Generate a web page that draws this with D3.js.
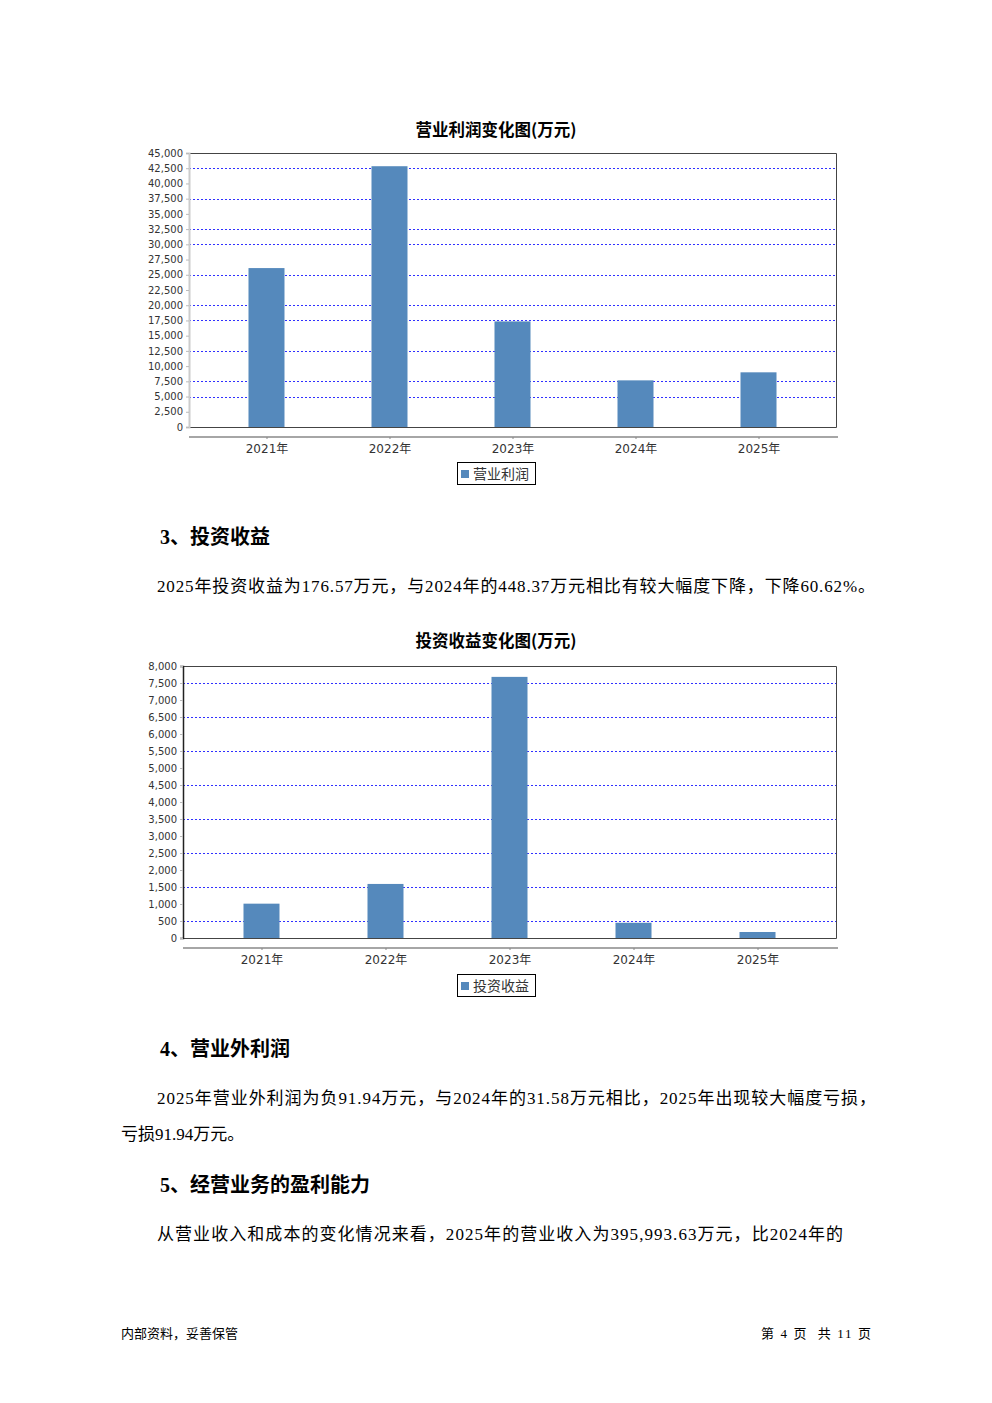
<!DOCTYPE html>
<html><head><meta charset="utf-8">
<script src="https://cdn.jsdelivr.net/npm/d3@7"></script>
<style>
html,body{margin:0;padding:0;background:#fff;}
svg{display:block;}
</style></head>
<body>
<svg id="page" width="992" height="1403"></svg>
<script>
// ---------- data ----------
const years = ["2021年", "2022年", "2023年", "2024年", "2025年"];
const profitValues = [26100, 42830, 17340, 7660, 8980];
const profitTicks = [0, 2500, 5000, 7500, 10000, 12500, 15000, 17500, 20000, 22500, 25000, 27500, 30000, 32500, 35000, 37500, 40000, 42500, 45000];
const profitGrid = [5000, 7500, 12500, 17500, 20000, 25000, 30000, 32500, 37500, 42500, 45000];
const investValues = [1010, 1590, 7680, 448.37, 176.57];
const investTicks = [0, 500, 1000, 1500, 2000, 2500, 3000, 3500, 4000, 4500, 5000, 5500, 6000, 6500, 7000, 7500, 8000];
const investGrid = [500, 1500, 2500, 3500, 4500, 5500, 6500, 7500];

const svg = d3.select("#page");
svg.append("rect").attr("width", 992).attr("height", 1403).attr("fill", "#fff");

const BAR = "#5589bc";
const fmt = d3.format(",");

function drawChart(c) {
  const g = svg.append("g");
  const y = d3.scaleLinear().domain([0, c.max]).range([c.yZero, c.yTop]);
  const x = d3.scalePoint().domain(years).range([c.x0, c.x1]).padding(c.pad);
  const bw = 36;

  // title
  g.append("text").attr("x", 496).attr("y", c.titleY).attr("text-anchor", "middle")
    .attr("font-family", "'Noto Sans CJK SC', sans-serif").attr("font-weight", "bold")
    .attr("font-size", 16.5).attr("fill", "#000").text(c.title);

  // grid lines
  g.selectAll(".grid").data(c.grid).enter().append("line")
    .attr("x1", c.x0).attr("x2", c.x1)
    .attr("y1", d => Math.round(y(d)) + 0.5).attr("y2", d => Math.round(y(d)) + 0.5)
    .attr("stroke", "#3030ff").attr("stroke-width", 1).attr("stroke-dasharray", "2,2");

  // bars
  g.selectAll(".bar").data(c.values).enter().append("rect")
    .attr("x", (d, i) => x(years[i]) - bw / 2)
    .attr("y", d => y(d))
    .attr("width", bw)
    .attr("height", d => c.yZero - y(d))
    .attr("fill", BAR);

  // plot border (top, right, bottom)
  g.append("path")
    .attr("d", `M${c.x0},${c.yTop + 0.5}H${c.x1 + 0.5}V${c.yZero + 0.5}H${c.x0}`)
    .attr("fill", "none").attr("stroke", "#444").attr("stroke-width", 1);

  // y axis
  const yAxis = d3.axisLeft(y).tickValues(c.ticks).tickFormat(fmt).tickSize(3).tickPadding(3);
  const ya = g.append("g").attr("transform", `translate(${c.x0},0)`).call(yAxis);
  ya.select(".domain").attr("stroke", c.axisColor).attr("stroke-width", c.axisWidth);
  ya.selectAll(".tick line").attr("stroke", "#bbb");
  ya.selectAll("text").attr("font-family", "'DejaVu Sans', sans-serif")
    .attr("font-size", 10).attr("fill", "#333");

  // category axis
  const xAxis = d3.axisBottom(x).tickSize(2).tickPadding(5);
  const xa = g.append("g").attr("transform", `translate(0,${c.axisY})`).call(xAxis);
  xa.select(".domain").attr("stroke", "#888").attr("stroke-width", 1.5)
    .attr("d", `M${c.x0},0H${c.x1 + 2}`);
  xa.selectAll(".tick line").attr("stroke", "#888");
  xa.selectAll("text").attr("font-family", "'DejaVu Sans', 'Noto Sans CJK SC', sans-serif")
    .attr("font-size", 12).attr("fill", "#333");

  // legend
  const lg = g.append("g").attr("transform", `translate(457,${c.legendY})`);
  lg.append("rect").attr("x", 0.5).attr("y", 0.5).attr("width", 78).attr("height", 22)
    .attr("fill", "#fff").attr("stroke", "#000").attr("stroke-width", 1);
  lg.append("rect").attr("x", 4).attr("y", 8).attr("width", 8).attr("height", 8).attr("fill", BAR);
  lg.append("text").attr("x", 16).attr("y", 16.5)
    .attr("font-family", "'Noto Sans CJK SC', sans-serif").attr("font-size", 14)
    .attr("fill", "#333").text(c.legend);
}

drawChart({
  title: "营业利润变化图(万元)", titleY: 136, values: profitValues, max: 45000,
  ticks: profitTicks, grid: profitGrid, x0: 189, x1: 836, yTop: 153, yZero: 427,
  pad: 0.63, axisY: 437, legendY: 462, legend: "营业利润", axisColor: "#ccc", axisWidth: 2
});
drawChart({
  title: "投资收益变化图(万元)", titleY: 647, values: investValues, max: 8000,
  ticks: investTicks, grid: investGrid, x0: 183, x1: 836, yTop: 666, yZero: 938,
  pad: 0.633, axisY: 948, legendY: 974, legend: "投资收益", axisColor: "#222", axisWidth: 1.5
});

// ---------- body text ----------
const bodyFont = "'Liberation Serif', 'Times New Roman', 'Noto Sans CJK SC', serif";
function heading(txt, x, yy) {
  svg.append("text").attr("x", x).attr("y", yy)
    .attr("font-family", bodyFont).attr("font-weight", "bold")
    .attr("font-size", 20).attr("fill", "#000").text(txt);
}
function para(txt, x, yy, len) {
  const t = svg.append("text").attr("x", x).attr("y", yy)
    .attr("font-family", bodyFont).attr("font-size", 17).attr("fill", "#000").text(txt);
  if (len) t.attr("textLength", len).attr("lengthAdjust", "spacing");
}
heading("3、投资收益", 160, 544);
para("2025年投资收益为176.57万元，与2024年的448.37万元相比有较大幅度下降，下降60.62%。", 157, 592, 718);
heading("4、营业外利润", 160, 1056);
para("2025年营业外利润为负91.94万元，与2024年的31.58万元相比，2025年出现较大幅度亏损，", 157, 1104, 719);
para("亏损91.94万元。", 121, 1140);
heading("5、经营业务的盈利能力", 160, 1192);
para("从营业收入和成本的变化情况来看，2025年的营业收入为395,993.63万元，比2024年的", 157, 1240, 686);

// footer
svg.append("text").attr("x", 121).attr("y", 1338).attr("font-family", bodyFont)
  .attr("font-size", 13).attr("fill", "#000").text("内部资料，妥善保管");
svg.append("text").attr("x", 761).attr("y", 1338).attr("font-family", bodyFont)
  .attr("font-size", 13).attr("fill", "#000").attr("xml:space", "preserve")
  .attr("textLength", 110).attr("lengthAdjust", "spacing").text("第 4 页  共 11 页");
</script>
</body></html>
